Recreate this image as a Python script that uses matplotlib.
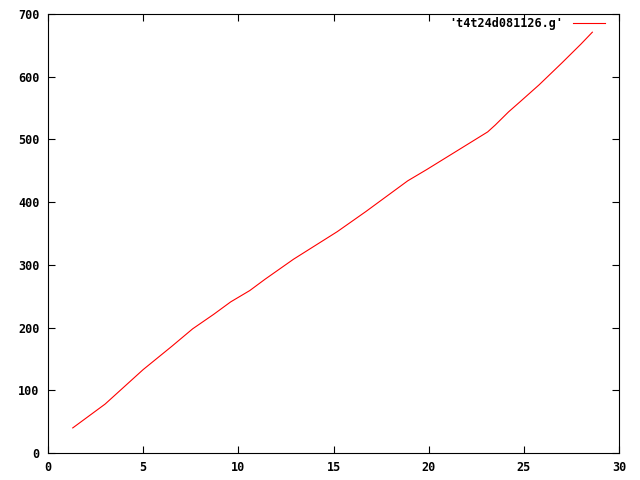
import matplotlib
matplotlib.use("Agg")
import matplotlib.pyplot as plt

x = [1.3, 3.0, 5.0, 6.5, 7.6, 8.7, 9.6, 10.6, 11.4, 12.9, 15.2, 16.7, 18.9, 19.9, 21.5,
     23.1, 23.5, 24.2, 24.8, 25.8, 27.0, 28.0, 28.6]
y = [40, 78, 133, 170, 198, 221, 241, 259, 277, 309, 353, 385, 434, 452, 482,
     512, 523, 544, 560, 587, 622, 652, 671]

plt.rcParams['font.family'] = ['DejaVu Sans Mono']
plt.rcParams['font.weight'] = 'bold'
fig = plt.figure(figsize=(6.4, 4.8), dpi=100)
ax = fig.add_axes([48/640, 27/480, 571/640, 439/480])
ax.plot(x, y, color='red', lw=0.8, label="'t4t24d081126.g'")
ax.set_xlim(0, 30)
ax.set_ylim(0, 700)
ax.set_xticks(range(0, 31, 5))
ax.set_yticks(range(0, 701, 100))
ax.tick_params(direction='in', top=True, right=True, length=5, width=0.8, labelsize=8.5, pad=6)
for sp in ax.spines.values():
    sp.set_linewidth(0.8)
leg = ax.legend(loc='upper right', bbox_to_anchor=(0.9837, 1.004), frameon=False,
                markerfirst=False, handlelength=2.7, fontsize=8.5, borderaxespad=0,
                handletextpad=0.8)
fig.savefig("out.png", dpi=100)
